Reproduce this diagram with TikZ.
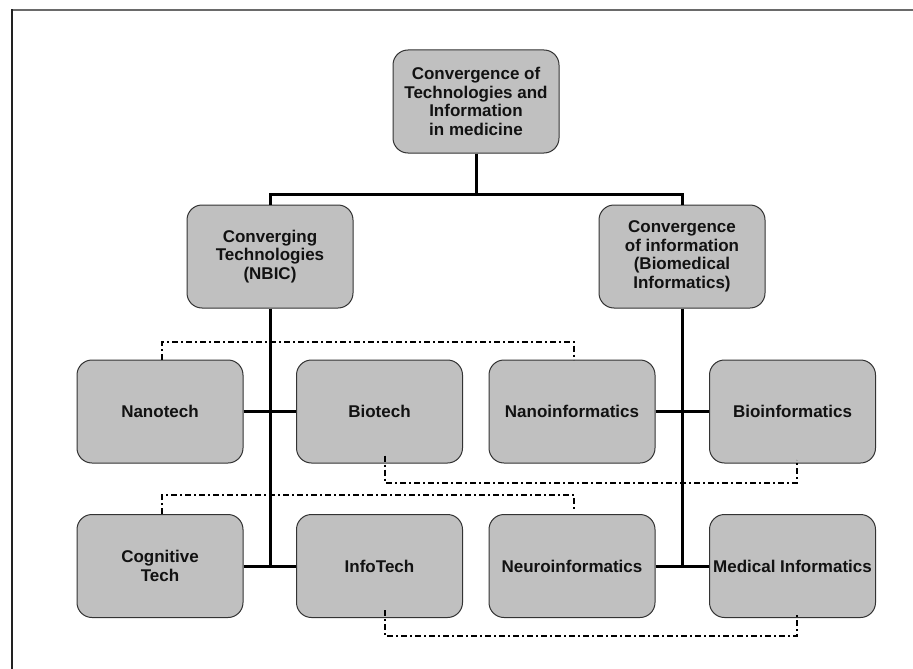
\documentclass[tikz,border=0pt]{standalone}
\usepackage{fontspec}
\setmainfont{Liberation Sans}
\definecolor{boxfill}{HTML}{C0C0C0}
\definecolor{boxline}{HTML}{333333}
\definecolor{topframe}{HTML}{6A6A6A}
\definecolor{leftframe}{HTML}{222222}
\tikzset{
  box/.style={rectangle, rounded corners=15pt, minimum width=166pt, minimum height=103pt,
    fill=boxfill, draw=boxline, line width=1pt, align=center, inner sep=1pt,
    font=\bfseries\fontsize{17}{18.5}\selectfont, text=black!93},
  conn/.style={line width=3pt, black},
  dd/.style={line width=2pt, black, dash pattern=on 6pt off 3pt on 2pt off 3pt}
}
\begin{document}
\begin{tikzpicture}[x=1pt,y=-1pt]
\useasboundingbox (0,0) rectangle (913,669);
\fill[white] (0,0) rectangle (913,669);
\draw[topframe, line width=1.6pt] (11.5,10) -- (913,10);
\draw[leftframe, line width=1.6pt] (12,9.5) -- (12,669);

\node[box] (top) at (476,101.5) {Convergence of\\Technologies and\\Information\\in medicine};
\node[box] (ct) at (270,256.5) {Converging\\Technologies\\(NBIC)};
\node[box] (ci) at (682,256.5) {Convergence\\of information\\(Biomedical\\Informatics)};
\node[box] (nano) at (160,411.5) {Nanotech};
\node[box] (bio) at (379.5,411.5) {Biotech};
\node[box] (nanoinfo) at (572,411.5) {Nanoinformatics};
\node[box] (bioinfo) at (792.5,411.5) {Bioinformatics};
\node[box] (cog) at (160,566) {Cognitive\\Tech};
\node[box] (info) at (379.5,566) {InfoTech};
\node[box] (neuro) at (572,566) {Neuroinformatics};
\node[box] (med) at (792.5,566) {Medical Informatics};

% dash-dot links
\draw[dd] ([xshift=2pt]nano.north) -- ++(0,-18) -| ([xshift=2pt]nanoinfo.north);
\draw[dd] ([xshift=5.5pt,yshift=8pt]bio.south) -- ++(0,27) -| ([xshift=4.5pt,yshift=4pt]bioinfo.south);
\draw[dd] ([xshift=2pt]cog.north) -- ++(0,-19) -| ([xshift=2pt,yshift=5pt]neuro.north);
\draw[dd] ([xshift=5.5pt,yshift=8pt]info.south) -- ++(0,26) -| ([xshift=4.5pt,yshift=4pt]med.south);

% solid tree
\coordinate (j) at (476,194);
\coordinate (jl) at (270,566);
\coordinate (jr) at (682,566);
\draw[conn] (top.south) -- (j);
\draw[conn] (ct.north) |- (j) -| (ci.north);
\draw[conn] (ct.south) -- (jl);
\draw[conn] (ci.south) -- (jr);
\draw[conn] (nano.east) -- (bio.west);
\draw[conn] (cog.east) -- (info.west);
\draw[conn] (nanoinfo.east) -- (bioinfo.west);
\draw[conn] (neuro.east) -- (med.west);
\end{tikzpicture}
\end{document}
